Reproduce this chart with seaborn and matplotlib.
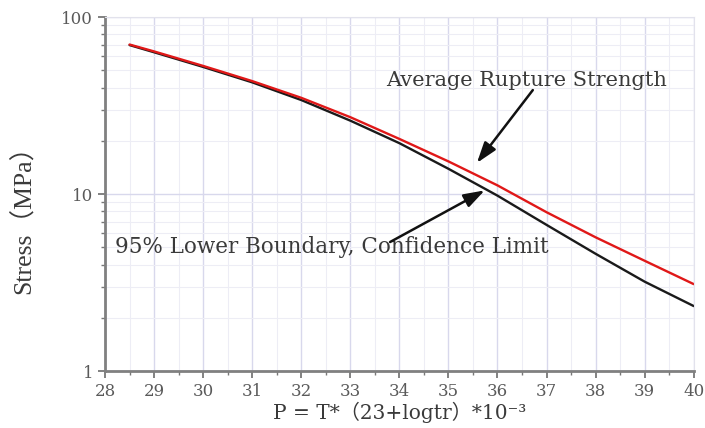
import numpy as np
import pandas as pd
import matplotlib
matplotlib.use("Agg")
import matplotlib.pyplot as plt
import matplotlib.ticker as mticker
import seaborn as sns

# -- Data --
p_values = [28.5, 29, 30, 31, 32, 33, 34, 35, 36, 37, 38, 39, 40]
avg_strength = [70, 64, 53, 43.5, 35, 27.2, 20.5, 15.3, 11.2, 7.9, 5.7, 4.2, 3.1]
lower_bound = [69.5, 63.3, 52.3, 42.8, 34.0, 26.0, 19.4, 13.9, 9.8, 6.7, 4.6, 3.2, 2.33]

WIDE = ["DejaVu Serif", "Noto Sans CJK SC"]
NARROW = ["Liberation Serif", "Noto Sans CJK SC"]
TEXT_COLOR = "#3a3a3a"


def main():
    sns.set_style("white")
    plt.rcParams["font.family"] = WIDE

    df = pd.DataFrame({
        "P": p_values * 2,
        "stress": avg_strength + lower_bound,
        "curve": ["avg"] * len(p_values) + ["low"] * len(p_values),
    })

    fig = plt.figure(figsize=(7.05, 4.28), dpi=100)
    ax = fig.add_axes([0.149, 0.133, 0.835, 0.827])

    sns.lineplot(data=df[df["curve"] == "low"], x="P", y="stress", color="#1a1a1a",
                 lw=1.7, ax=ax)
    sns.lineplot(data=df[df["curve"] == "avg"], x="P", y="stress", color="#e01818",
                 lw=1.7, ax=ax)

    ax.set_yscale("log")
    ax.set_xlim(28, 40)
    ax.set_ylim(1, 100)
    ax.xaxis.set_major_locator(mticker.MultipleLocator(1))
    ax.xaxis.set_minor_locator(mticker.MultipleLocator(0.5))
    ax.yaxis.set_major_locator(mticker.LogLocator(base=10, numticks=5))
    ax.yaxis.set_minor_locator(mticker.LogLocator(base=10, subs=np.arange(2, 10), numticks=20))
    ax.yaxis.set_major_formatter(mticker.FuncFormatter(lambda v, _: f"{v:g}"))
    ax.yaxis.set_minor_formatter(mticker.NullFormatter())

    ax.grid(True, which="major", color="#d8d8ec", lw=1.0)
    ax.grid(True, which="minor", color="#ededf5", lw=0.8)

    ax.tick_params(which="both", direction="out", color="#777777", labelcolor="#5a5a5a",
                   labelsize=12, left=True, bottom=True)
    ax.tick_params(which="major", length=5, width=1.3)
    ax.tick_params(which="minor", length=3, width=1.0)

    for side in ["top", "right"]:
        ax.spines[side].set_color("#e2e2ec")
        ax.spines[side].set_linewidth(0.8)
    for side in ["left", "bottom"]:
        ax.spines[side].set_color("#808080")
        ax.spines[side].set_linewidth(2.0)

    ax.set_xlabel("P = T*（23+logtr）*10⁻³", fontsize=14.5, color=TEXT_COLOR, labelpad=1)
    ax.set_ylabel("Stress（MPa）", fontsize=18.5, color=TEXT_COLOR, family=NARROW)
    ax.yaxis.set_label_coords(-0.117, 0.447)

    # annotation labels
    ax.text(36.6, 44, "Average Rupture Strength", fontsize=15, color=TEXT_COLOR,
            ha="center", va="center")
    ax.text(32.63, 5.0, "95% Lower Boundary, Confidence Limit", fontsize=15.5,
            color=TEXT_COLOR, ha="center", va="center")

    arrow = dict(arrowstyle="-|>,head_length=0.9,head_width=0.3", color="#111111",
                 lw=1.8, mutation_scale=14, shrinkA=0, shrinkB=0)
    ax.annotate("", xy=(35.58, 15.0), xytext=(36.72, 38.7), arrowprops=arrow)
    ax.annotate("", xy=(35.74, 10.5), xytext=(33.81, 5.36), arrowprops=arrow)

    fig.savefig("out.png", dpi=100)
    plt.close(fig)


if __name__ == "__main__":
    main()
